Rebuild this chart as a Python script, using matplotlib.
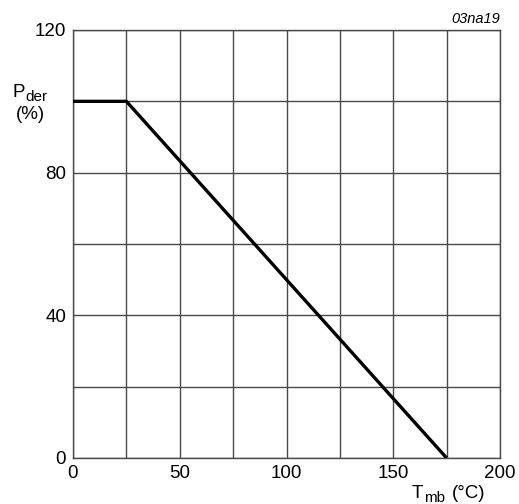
import matplotlib.pyplot as plt

# Derating curve data
temp_mb = [0, 25, 175]
p_der = [100, 100, 0]

x_ticks = [0, 50, 100, 150, 200]
y_ticks = [0, 40, 80, 120]
x_grid = [0, 25, 50, 75, 100, 125, 150, 175, 200]
y_grid = [0, 20, 40, 60, 80, 100, 120]

plt.rcParams['font.family'] = ['Liberation Sans', 'DejaVu Sans']

W, H = 519, 504
fig = plt.figure(figsize=(W / 100, H / 100), dpi=100)
ax = fig.add_axes([73 / W, 1 - 458 / H, 427 / W, 428 / H])

grid_col = '#4a4a4a'
for gx in x_grid:
    ax.axvline(gx, color=grid_col, lw=1.0, zorder=1)
for gy in y_grid:
    ax.axhline(gy, color=grid_col, lw=1.0, zorder=1)

ax.plot(temp_mb, p_der, color='black', lw=2.4, zorder=3, solid_capstyle='butt')

ax.set_xlim(0, 200)
ax.set_ylim(0, 120)
ax.set_xticks(x_ticks)
ax.set_yticks(y_ticks)
ax.tick_params(length=0, labelsize=13.5, pad=5)
for s in ax.spines.values():
    s.set_color(grid_col)
    s.set_linewidth(1.0)


def label(x, y, txt, size=13.5, **kw):
    fig.text(x / W, 1 - y / H, txt, fontsize=size, va='baseline', **kw)


# axis labels, placed like in the datasheet (subscripts drawn as smaller text)
label(13, 97, 'P')
label(25, 101, 'der', size=11)
label(30, 119, '(%)', ha='center')
label(412, 498, 'T')
label(424.5, 502, 'mb', size=11)
label(485, 498, '(°C)', ha='right')
label(500, 23, '03na19', size=10.5, style='italic', ha='right')

fig.savefig('out.png', dpi=100)
